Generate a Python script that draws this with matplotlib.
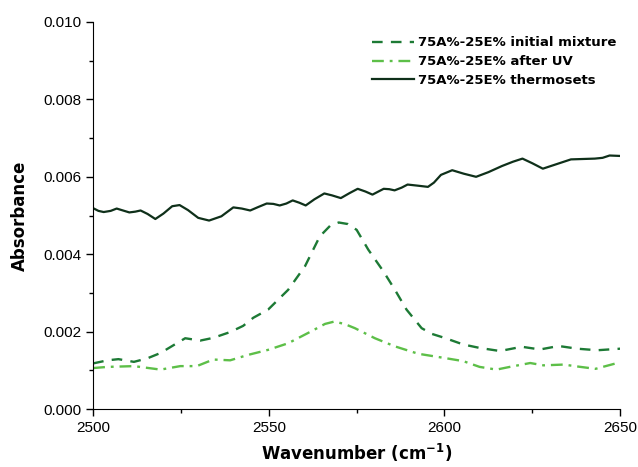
import matplotlib.pyplot as plt
from matplotlib.ticker import MultipleLocator, FormatStrFormatter

# wavenumber (cm-1) / absorbance (x1e-3)
wn_init = [2500, 2504.1, 2507.2, 2511.6, 2515.4, 2519.2, 2522.5, 2526.2, 2530.5,
           2534.2, 2539, 2542.7, 2545.6, 2549.8, 2555.5, 2560.3, 2564.5, 2567.5,
           2569.9, 2572.5, 2575, 2578.3, 2582.6, 2585.9, 2589.2, 2593.5, 2596.5,
           2600, 2605.3, 2610, 2615.8, 2622, 2627.2, 2632.5, 2637.8, 2643.5, 2650]
ab_init = [1.18, 1.26, 1.29, 1.22, 1.31, 1.45, 1.63, 1.83, 1.77,
           1.84, 1.99, 2.15, 2.36, 2.57, 3.08, 3.69, 4.46, 4.74,
           4.82, 4.78, 4.63, 4.12, 3.56, 3.08, 2.57, 2.09, 1.94,
           1.84, 1.67, 1.58, 1.50, 1.61, 1.54, 1.63, 1.56, 1.52, 1.56]

wn_uv = [2500, 2504.1, 2511.6, 2519.2, 2524.8, 2529.5, 2534.2, 2539, 2544.1,
         2549.8, 2555.5, 2562.1, 2566, 2568.6, 2571.5, 2574.5, 2580.2, 2585.9,
         2592.5, 2600, 2605.3, 2610, 2614.8, 2618.6, 2624.4, 2628.2, 2633.9,
         2638.7, 2643, 2650]
ab_uv = [1.06, 1.09, 1.11, 1.02, 1.11, 1.11, 1.28, 1.26, 1.40,
         1.53, 1.70, 2.01, 2.20, 2.26, 2.20, 2.09, 1.83, 1.62,
         1.43, 1.32, 1.24, 1.09, 1.02, 1.09, 1.19, 1.13, 1.15,
         1.09, 1.04, 1.21]

wn_therm = [2500, 2501.5, 2503, 2505, 2506.7, 2508.5, 2510.3, 2512, 2513.5, 2515.5,
            2517.7, 2520, 2522.5, 2524.6, 2527, 2529.9, 2533, 2536.5, 2539.9,
            2542.3, 2544.7, 2547, 2549.4, 2551.3, 2553.1, 2555, 2556.8, 2558.7,
            2560.5, 2563, 2565.8, 2568, 2570.5, 2573, 2575.3, 2577.5, 2579.5,
            2581.2, 2582.7, 2584.3, 2585.8, 2587.8, 2589.5, 2592.5, 2595.3, 2597,
            2599, 2602.2, 2605.5, 2609, 2612.5, 2616.4, 2619.5, 2622.2, 2625,
            2628, 2632, 2636, 2642.8, 2645, 2647, 2649.7]
ab_therm = [5.19, 5.12, 5.09, 5.12, 5.18, 5.13, 5.08, 5.10, 5.13, 5.04,
            4.91, 5.05, 5.24, 5.27, 5.14, 4.94, 4.87, 4.98, 5.21,
            5.18, 5.13, 5.22, 5.31, 5.30, 5.26, 5.31, 5.39, 5.33,
            5.26, 5.42, 5.57, 5.52, 5.45, 5.58, 5.69, 5.62, 5.54,
            5.62, 5.69, 5.68, 5.65, 5.72, 5.80, 5.77, 5.74, 5.85,
            6.05, 6.17, 6.08, 6.00, 6.12, 6.28, 6.39, 6.47, 6.35,
            6.21, 6.33, 6.45, 6.47, 6.49, 6.55, 6.54]

labels = ['75A%-25E% initial mixture', '75A%-25E% after UV', '75A%-25E% thermosets']

fig = plt.figure(figsize=(6.38, 4.67), dpi=100)
ax = fig.add_axes([0.146, 0.124, 0.826, 0.829])

ax.plot(wn_init, [v / 1000 for v in ab_init], color='#1d7a35', lw=1.7,
        dashes=(4.5, 3.5), label=labels[0])
ax.plot(wn_uv, [v / 1000 for v in ab_uv], color='#5dbf48', lw=1.7,
        dashes=(5, 2.5, 1.2, 2.5), label=labels[1])
ax.plot(wn_therm, [v / 1000 for v in ab_therm], color='#0f301a', lw=1.6,
        label=labels[2])

ax.set_xlim(2500, 2650)
ax.set_ylim(0, 0.010)
ax.xaxis.set_major_locator(MultipleLocator(50))
ax.xaxis.set_minor_locator(MultipleLocator(25))
ax.yaxis.set_major_locator(MultipleLocator(0.002))
ax.yaxis.set_minor_locator(MultipleLocator(0.001))
ax.yaxis.set_major_formatter(FormatStrFormatter('%.3f'))
ax.tick_params(which='major', direction='out', length=5, width=1,
               labelsize=11, labelfontfamily='Liberation Sans')
ax.tick_params(which='minor', direction='out', length=3, width=1)
for s in ['top', 'right']:
    ax.spines[s].set_visible(False)

ax.set_xlabel('Wavenumber (cm$^{\\mathbf{-1}}$)', fontsize=12, fontweight='bold',
              family='DejaVu Sans', labelpad=5)
ax.set_ylabel('Absorbance', fontsize=12, fontweight='bold',
              family='DejaVu Sans', labelpad=10)

leg = ax.legend(loc='upper right', bbox_to_anchor=(1.01, 0.987), frameon=False,
                handlelength=3.2,
                prop={'family': 'DejaVu Sans', 'weight': 'bold', 'size': 9.5},
                borderaxespad=0.3, labelspacing=0.45, handletextpad=0.3)

fig.savefig('out.png', dpi=100)
